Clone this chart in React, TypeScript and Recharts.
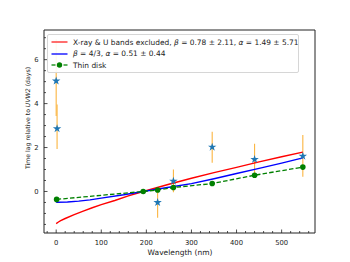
import { ComposedChart, Line, Scatter, ErrorBar, XAxis, YAxis, ReferenceArea, Symbols } from 'recharts';

// observed lags (stars) with asymmetric errors
const starWave = [0, 2, 225, 260, 346, 440, 547];
const starLag = [5.03, 2.86, -0.5, 0.47, 2.02, 1.46, 1.61];
const starErrLow = [1.6, 0.93, 0.7, 0.5, 0.71, 0.72, 0.94];
const starErrHigh = [1.9, 1.1, 0.53, 0.53, 0.7, 0.71, 0.96];

// thin disk prediction
const thinWave = [1, 193, 225, 260, 346, 440, 547];
const thinLag = [-0.36, 0, 0.07, 0.18, 0.36, 0.74, 1.11];

// fit: X-ray & U excluded
const redWave = [0, 5, 10, 20, 40, 60, 80, 100, 130, 160, 193, 250, 300, 350, 400, 450, 500, 547];
const redLag = [-1.46, -1.39, -1.33, -1.23, -1.05, -0.89, -0.74, -0.6, -0.41, -0.2, 0, 0.33, 0.6, 0.86, 1.1, 1.35, 1.58, 1.79];

// fit: beta = 4/3
const blueWave = [0, 25, 50, 75, 100, 150, 193, 250, 300, 350, 400, 450, 500, 547];
const blueLag = [-0.49, -0.48, -0.44, -0.38, -0.3, -0.15, 0, 0.19, 0.36, 0.58, 0.82, 1.05, 1.29, 1.53];

const xTicks = [-20, 0, 20, 40, 60, 80, 100, 120, 140, 160, 180, 200, 220, 240, 260, 280, 300, 320, 340, 360, 380, 400, 420, 440, 460, 480, 500, 520, 540, 560];
const yTicks = [-1.5, -1, -0.5, 0, 0.5, 1, 1.5, 2, 2.5, 3, 3.5, 4, 4.5, 5, 5.5, 6, 6.5, 7];

const X_DOMAIN: [number, number] = [-27, 574];
const Y_DOMAIN: [number, number] = [-1.89, 7.35];

const PLOT_LEFT = 44;
const PLOT_BOTTOM = 233;
const FONT = 'DejaVu Sans, sans-serif';

const redData = redWave.map((x, i) => ({ x, y: redLag[i] }));
const blueData = blueWave.map((x, i) => ({ x, y: blueLag[i] }));
const thinData = thinWave.map((x, i) => ({ x, y: thinLag[i] }));
const starData = starWave.map((x, i) => ({ x, y: starLag[i], err: [starErrLow[i], starErrHigh[i]] }));

const XTick = ({ x, payload }: any) => {
  const v = payload.value;
  const major = v % 100 === 0;
  return (
    <g>
      <line x1={x} x2={x} y1={PLOT_BOTTOM} y2={PLOT_BOTTOM - (major ? 3.5 : 2)} stroke="#222" strokeWidth={0.8} />
      {major && (
        <text x={x} y={244.8} textAnchor="middle" fontSize={6.8} fontFamily={FONT} fill="#222">
          {v}
        </text>
      )}
    </g>
  );
};

const YTick = ({ y, payload }: any) => {
  const v = payload.value;
  const major = v % 2 === 0;
  return (
    <g>
      <line x1={PLOT_LEFT} x2={PLOT_LEFT + (major ? 3.5 : 2)} y1={y} y2={y} stroke="#222" strokeWidth={0.8} />
      {major && (
        <text x={38.5} y={y + 2.4} textAnchor="end" fontSize={6.8} fontFamily={FONT} fill="#222">
          {v}
        </text>
      )}
    </g>
  );
};

const StarShape = (props: any) => (
  <Symbols type="star" cx={props.cx} cy={props.cy} size={22} fill="#1f77b4" stroke="none" />
);

const ThinDot = (props: any) => (
  <circle key={props.index} cx={props.cx} cy={props.cy} r={2.8} fill="#008000" />
);

function LegendBox() {
  const row = (y: number) => ({ position: 'absolute' as const, left: 0, top: y - 6, height: 12, display: 'flex', alignItems: 'center' });
  return (
    <div
      style={{
        position: 'absolute',
        left: 47,
        top: 34,
        width: 250,
        height: 37,
        background: 'rgba(255,255,255,0.9)',
        border: '1px solid #d6d6d6',
        borderRadius: 2,
        fontFamily: FONT,
        fontSize: 7.45,
        color: '#222',
        whiteSpace: 'nowrap',
      }}
    >
      <div style={row(7)}>
        <svg width={25} height={12}>
          <line x1={3.5} x2={19.5} y1={6} y2={6} stroke="#ff3030" strokeWidth={1.4} />
        </svg>
        <span>
          X-ray &amp; U bands excluded, <i>β</i> = 0.78 ± 2.11, <i>α</i> = 1.49 ± 5.71
        </span>
      </div>
      <div style={row(18.5)}>
        <svg width={25} height={12}>
          <line x1={3.5} x2={19.5} y1={6} y2={6} stroke="#1010ff" strokeWidth={1.4} />
        </svg>
        <span>
          <i>β</i> = 4/3, <i>α</i> = 0.51 ± 0.44
        </span>
      </div>
      <div style={row(30)}>
        <svg width={25} height={12}>
          <line x1={3.5} x2={19.5} y1={6} y2={6} stroke="#2a962a" strokeWidth={1.4} strokeDasharray="4 2" />
          <circle cx={11.5} cy={6} r={2.7} fill="#008000" />
        </svg>
        <span>Thin disk</span>
      </div>
    </div>
  );
}

export default function App() {
  return (
    <div style={{ position: 'absolute', left: 0, top: 0, width: 350, height: 262, background: '#fff' }}>
      <ComposedChart width={350} height={262} margin={{ top: 30, right: 35, bottom: 0, left: 0 }}>
        <XAxis
          type="number"
          dataKey="x"
          domain={X_DOMAIN}
          ticks={xTicks}
          interval={0}
          allowDataOverflow
          height={29}
          axisLine={false}
          tickLine={false}
          tick={<XTick />}
          label={{
            content: () => (
              <text x={180} y={255} textAnchor="middle" fontSize={7.5} fontFamily={FONT} fill="#222">
                Wavelength (nm)
              </text>
            ),
          }}
        />
        <YAxis
          type="number"
          dataKey="y"
          domain={Y_DOMAIN}
          ticks={yTicks}
          interval={0}
          allowDataOverflow
          width={44}
          axisLine={false}
          tickLine={false}
          tick={<YTick />}
          label={{
            content: () => (
              <text
                x={27}
                y={118}
                transform="rotate(-90 27 118)"
                textAnchor="middle"
                dominantBaseline="central"
                fontSize={6.2}
                fontFamily={FONT}
                fill="#222"
              >
                Time lag relative to <tspan fontStyle="italic">UVW2</tspan> (days)
              </text>
            ),
          }}
        />
        <ReferenceArea x1={X_DOMAIN[0]} x2={X_DOMAIN[1]} y1={Y_DOMAIN[0]} y2={Y_DOMAIN[1]} fill="none" stroke="#222" strokeWidth={1} />
        <Scatter data={starData} shape={<StarShape />} isAnimationActive={false}>
          <ErrorBar dataKey="err" direction="y" width={0} stroke="#fbb540" strokeWidth={1.1} />
        </Scatter>
        <Line data={redData} dataKey="y" type="linear" stroke="#ff0000" strokeWidth={1.4} dot={false} activeDot={false} isAnimationActive={false} />
        <Line data={blueData} dataKey="y" type="linear" stroke="#0000ff" strokeWidth={1.4} dot={false} activeDot={false} isAnimationActive={false} />
        <Line
          data={thinData}
          dataKey="y"
          type="linear"
          stroke="#008000"
          strokeWidth={1.3}
          strokeDasharray="4.5 2.2"
          dot={<ThinDot />}
          activeDot={false}
          isAnimationActive={false}
        />
      </ComposedChart>
      <LegendBox />
    </div>
  );
}
